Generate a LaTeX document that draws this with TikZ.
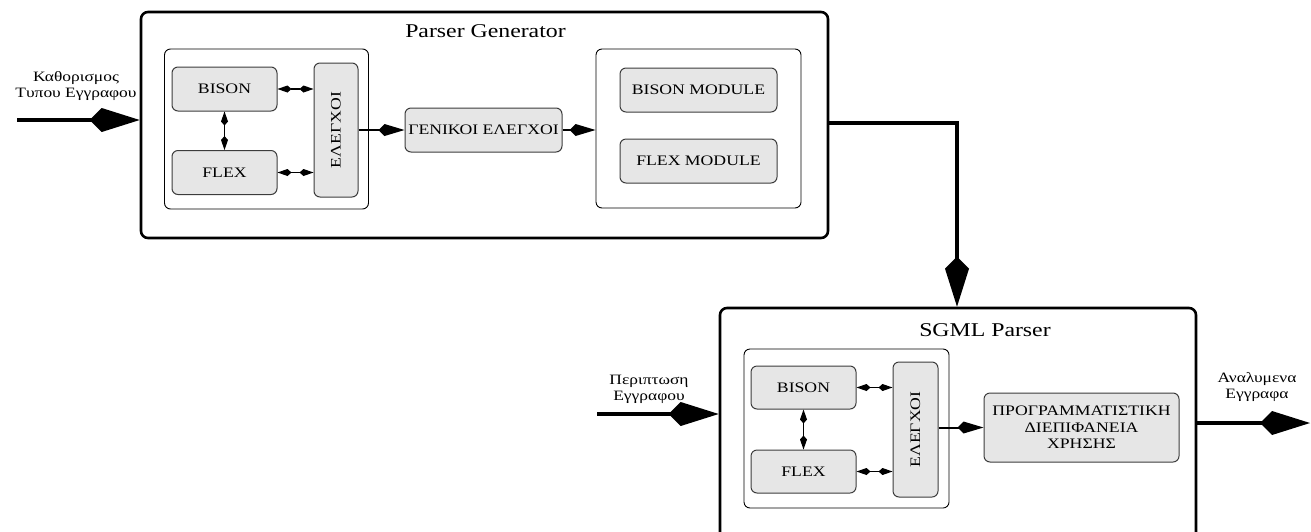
\documentclass[tikz,border=0pt]{standalone}
\usepackage{fontspec}
\usepackage{graphicx}
\setmainfont[FakeStretch=1.22]{Liberation Serif}
\usetikzlibrary{arrows.meta}

\definecolor{boxgray}{HTML}{E6E6E6}
\definecolor{edgegray}{HTML}{3C3C3C}

\tikzset{
  frame/.style={draw, line width=2.6pt, rounded corners=7pt, inner sep=0pt},
  panel/.style={draw, line width=0.9pt, rounded corners=6pt, inner sep=0pt},
  unit/.style={draw=edgegray, fill=boxgray, line width=1pt, rounded corners=6pt,
    inner sep=0pt, align=center, font=\fontsize{14.5}{16.5}\selectfont},
  caption/.style={align=center, inner sep=0pt, font=\fontsize{14.3}{16}\selectfont},
  title/.style={inner sep=0pt, font=\fontsize{19.5}{21}\selectfont},
  bigarrow/.style={line width=4pt, -{Kite[length=50pt,width=24pt,inset=12pt]}},
  midarrow/.style={line width=2pt, -{Kite[length=26pt,width=12pt,inset=6pt]}},
  duoarrow/.style={line width=1.2pt,
    {Kite[length=14pt,width=7pt,inset=4pt]}-{Kite[length=14pt,width=7pt,inset=4pt]}},
}

\begin{document}
\begin{tikzpicture}[x=1pt,y=-1pt]
  \clip (0,0) rectangle (1311,531);

  % parser generator
  \node[frame, minimum width=687, minimum height=226] (pgen) at (484.5,125) {};
  \node[title] (pgentitle) at (485.5,31.5) {Parser Generator};

  \node[panel, minimum width=204, minimum height=160] (pgenleft) at (266.5,129) {};
  \node[unit, minimum width=105, minimum height=44] (bisonA) at (224.5,89) {BISON};
  \node[unit, minimum width=105, minimum height=44] (flexA) at (224.5,172.5) {FLEX};
  \node[unit, minimum width=44, minimum height=134] (checksA) at (336,130)
    {\rotatebox{90}{ΕΛΕΓΧΟΙ}};

  \node[unit, minimum width=157, minimum height=44] (general) at (483.5,130)
    {ΓΕΝΙΚΟΙ ΕΛΕΓΧΟΙ};

  \node[panel, minimum width=205, minimum height=159] (pgenright) at (698.5,128.5) {};
  \node[unit, minimum width=157, minimum height=44] (bisonmod) at (698.5,90) {BISON MODULE};
  \node[unit, minimum width=157, minimum height=44] (flexmod) at (698.5,161) {FLEX MODULE};

  \draw[duoarrow] (bisonA.east) -- (bisonA.east -| checksA.west);
  \draw[duoarrow] (flexA.east) -- (flexA.east -| checksA.west);
  \draw[duoarrow] (bisonA.south) -- (flexA.north);
  \draw[midarrow] (checksA.east) -- (general.west);
  \draw[midarrow] (general.east) -- (general.east -| pgenright.west);

  \node[caption] (pinlabel) at (76,86) {Καθορισμος\\Τυπου Εγγραφου};
  \coordinate (pin) at (17,120);
  \draw[bigarrow] (pin) -- (pin -| pgen.west);

  % sgml parser
  \node[frame, minimum width=476, minimum height=260] (sgml) at (958,438) {};
  \node[title] (sgmltitle) at (985,330) {SGML Parser};

  \node[panel, minimum width=205, minimum height=159] (sgmlleft) at (846.5,428.5) {};
  \node[unit, minimum width=105, minimum height=43] (bisonB) at (803.5,387.5) {BISON};
  \node[unit, minimum width=105, minimum height=43] (flexB) at (803.5,471.5) {FLEX};
  \node[unit, minimum width=45, minimum height=135] (checksB) at (915.5,429.5)
    {\rotatebox{90}{ΕΛΕΓΧΟΙ}};

  \node[unit, minimum width=195, minimum height=69] (api) at (1081.5,427.5)
    {ΠΡΟΓΡΑΜΜΑΤΙΣΤΙΚΗ\\ΔΙΕΠΙΦΑΝΕΙΑ\\ΧΡΗΣΗΣ};

  \draw[duoarrow] (bisonB.east) -- (bisonB.east -| checksB.west);
  \draw[duoarrow] (flexB.east) -- (flexB.east -| checksB.west);
  \draw[duoarrow] (bisonB.south) -- (flexB.north);
  \draw[midarrow] (api.west -| checksB.east) -- (api.west);

  \node[caption] (dinlabel) at (649,389) {Περιπτωση\\Εγγραφου};
  \coordinate (din) at (597,414);
  \draw[bigarrow] (din) -- (din -| sgml.west);

  \node[caption] (doutlabel) at (1257,387) {Αναλυμενα\\Εγγραφα};
  \coordinate (dout) at (1310,423);
  \draw[bigarrow] (dout -| sgml.east) -- (dout);

  % generator output feeds the parser
  \coordinate (bend) at (957,123);
  \draw[bigarrow] (bend -| pgen.east) -- (bend) -- (bend |- sgml.north);
\end{tikzpicture}
\end{document}
